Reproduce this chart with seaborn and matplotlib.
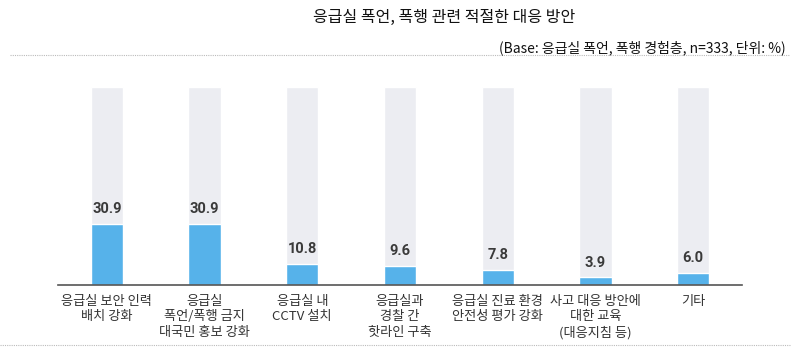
import matplotlib
matplotlib.use("Agg")
import matplotlib.pyplot as plt
from matplotlib.lines import Line2D
import seaborn as sns
import pandas as pd

categories = [
    "응급실 보안 인력\n배치 강화",
    "응급실\n폭언/폭행 금지\n대국민 홍보 강화",
    "응급실 내\nCCTV 설치",
    "응급실과\n경찰 간\n핫라인 구축",
    "응급실 진료 환경\n안전성 평가 강화",
    "사고 대응 방안에\n대한 교육\n(대응지침 등)",
    "기타",
]
values = [30.9, 30.9, 10.8, 9.6, 7.8, 3.9, 6.0]
background = [100] * len(categories)
title = "응급실 폭언, 폭행 관련 적절한 대응 방안"
subtitle = "(Base: 응급실 폭언, 폭행 경험층, n=333, 단위: %)"

sns.set_theme(style="white")
plt.rcParams['font.family'] = ['Noto Sans CJK KR', 'DejaVu Sans']

df = pd.DataFrame({"cat": categories, "val": values, "bg": background})

fig = plt.figure(figsize=(8, 3.49), dpi=100)
ax = fig.add_axes([0.0725, 0.1834, 0.855, 0.5673])

sns.barplot(data=df, x="cat", y="bg", order=categories, color="#ECEDF2",
            width=0.33, ax=ax, saturation=1)
sns.barplot(data=df, x="cat", y="val", order=categories, color="#56B2EA",
            width=0.33, ax=ax, saturation=1)

ax.set_ylim(0, 100)
ax.set_xlim(-0.5, len(categories) - 0.5)
ax.set_xlabel("")
ax.set_ylabel("")
ax.set_yticks([])
for s in ["top", "right", "left"]:
    ax.spines[s].set_visible(False)
ax.spines["bottom"].set_color("#555555")
ax.spines["bottom"].set_linewidth(1.2)
ax.tick_params(axis="x", length=0, pad=7, labelsize=9.5, colors="#333333")
ax.set_xticks(range(len(categories)))
ax.set_xticklabels(categories, fontsize=9.5, color="#333333", linespacing=1.25)

bars = ax.containers[1]
for rect, v in zip(bars, values):
    ax.annotate(f"{v:.1f}", (rect.get_x() + rect.get_width() / 2, rect.get_height()),
                xytext=(0, 5.5), textcoords="offset points", ha="center", va="bottom",
                fontsize=10.5, fontweight="bold", color="#3a3a3a",
                family=["DejaVu Sans Condensed", "Roboto"], fontstretch="condensed")

fig.text(444 / 800, 1 - 17.5 / 349, title, ha="center", va="center",
         fontsize=11.5, color="#111111")
fig.text(786 / 800, 1 - 48 / 349, subtitle, ha="right", va="center",
         fontsize=10, color="#111111")

fig.add_artist(Line2D([10 / 800, 790 / 800], [1 - 55 / 349, 1 - 55 / 349],
                      transform=fig.transFigure, color="#bbbbbb", lw=0.8, ls=(0, (1, 1))))
fig.add_artist(Line2D([0 / 800, 790 / 800], [1 - 345 / 349, 1 - 345 / 349],
                      transform=fig.transFigure, color="#bbbbbb", lw=0.8, ls=(0, (1, 1))))

fig.savefig("out.png", dpi=100)
